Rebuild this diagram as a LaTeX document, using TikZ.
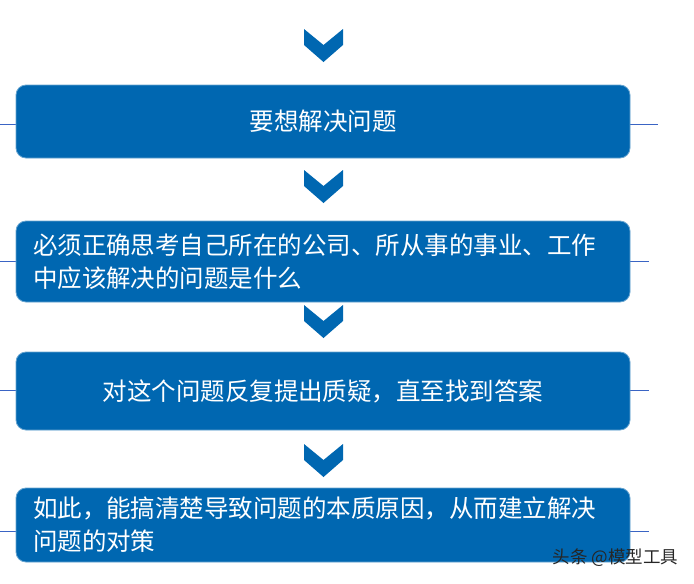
\documentclass[tikz,border=0pt]{standalone}
\usepackage{fontspec}
\setmainfont{Noto Sans CJK SC}
\usepackage{xcolor}
\usetikzlibrary{positioning,backgrounds}
\definecolor{stepblue}{RGB}{0,103,177}
\definecolor{ruleblue}{RGB}{58,100,196}

\begin{document}
\begin{tikzpicture}[
    x=1pt, y=-1pt,
    stepbox/.style={rectangle, rounded corners=10pt, fill=stepblue, draw=stepblue!60!white, line width=0.8pt, minimum width=614pt, text=white, inner xsep=17pt, font=\fontsize{24.5}{33}\selectfont},
    leftbox/.style={stepbox, text width=580pt, align=left},
    chevron/.style={fill=stepblue},
    rule/.style={draw=ruleblue, line width=1pt}
]
\useasboundingbox (0,0) rectangle (694,584);

\node[stepbox, minimum height=73pt] (solve) at (323,121.5) {要想解决问题};
\node[leftbox, minimum height=81pt] (think) at (323,261.5) {必须正确思考自己所在的公司、所从事的事业、工作\\中应该解决的问题是什么};
\node[stepbox, minimum height=78pt] (doubt) at (323,391) {对这个问题反复提出质疑，直至找到答案};
\node[leftbox, minimum height=74pt] (cause) at (323,525) {如此，能搞清楚导致问题的本质原因，从而建立解决\\问题的对策};

\node[anchor=east, text=black!85, font=\fontsize{17.5}{20}\selectfont] (mark) at (682,558) {头条 @模型工具};

% side rules behind the boxes
\coordinate (solvel) at (0,124);  \coordinate (solver) at (658,124);
\coordinate (thinkl) at (0,261);  \coordinate (thinkr) at (649,261);
\coordinate (doubtl) at (0,390);  \coordinate (doubtr) at (649,390);
\coordinate (causel) at (0,531);  \coordinate (causer) at (649,531);
\begin{scope}[on background layer]
\draw[rule] (solvel) -- (solver);
\draw[rule] (thinkl) -- (thinkr);
\draw[rule] (doubtl) -- (doubtr);
\draw[rule] (causel) -- (causer);
\end{scope}

% chevrons
\foreach \y in {29,170,305,444}
    \fill[chevron] (304,\y) -- ++(19.5,16) -- ++(19.5,-16) -- ++(0,16) -- ++(-19.5,17) -- ++(-19.5,-17) -- cycle;

\end{tikzpicture}
\end{document}
